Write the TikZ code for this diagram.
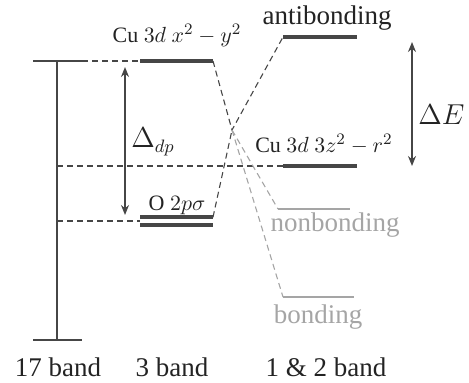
\documentclass[tikz,border=0pt]{standalone}
\usepackage{amsmath}
\usepackage{fontspec}
\setmainfont{Liberation Serif}
\newfontfamily\levelfont{Liberation Serif}
\usetikzlibrary{arrows.meta,positioning,calc}
\definecolor{levelcolor}{RGB}{70,70,70}
\definecolor{weakcolor}{RGB}{165,165,165}
\definecolor{inkcolor}{RGB}{35,35,35}

\begin{document}
\begin{tikzpicture}[x=0.5pt, y=-0.5pt,
    level/.style={line width=2pt, levelcolor},
    weaklevel/.style={line width=1pt, weakcolor},
    guide/.style={levelcolor, line width=0.55pt, dash pattern=on 3pt off 2pt},
    bandline/.style={levelcolor, line width=0.75pt},
    gap/.style={levelcolor, line width=0.75pt, {Stealth[length=5pt,width=4pt]}-{Stealth[length=5pt,width=4pt]}},
    lab/.style={inner sep=0pt, text=inkcolor, font=\levelfont\fontsize{13.5}{16}\selectfont},
    small/.style={inner sep=0pt, text=inkcolor, font=\levelfont\fontsize{11}{13}\selectfont}]
    \useasboundingbox (0,0) rectangle (469,382);

    % 17 band
    \coordinate (t17l) at (33,61);
    \coordinate (t17r) at (82,61);
    \coordinate (t17) at (57,61);
    \coordinate (b17l) at (33,340);
    \coordinate (b17r) at (82,340);
    \coordinate (b17) at (57,340);
    \draw[bandline] (t17l) -- (t17r);
    \draw[bandline] (b17l) -- (b17r);
    \draw[bandline] (t17) -- (b17);

    % 3 band levels
    \coordinate (xyL) at (140,61);
    \coordinate (xyR) at (213,61);
    \coordinate (oL) at (140,221);
    \coordinate (oR) at (213,221);
    \draw[level] (xyL) -- (xyR);
    \draw[level] ([yshift=1.9pt]oL) -- ([yshift=1.9pt]oR);
    \draw[level] ([yshift=-1.9pt]oL) -- ([yshift=-1.9pt]oR);

    % 1 & 2 band levels
    \coordinate (abL) at (283,37);
    \coordinate (abR) at (357,37);
    \coordinate (zL) at (283,166);
    \coordinate (zR) at (357,166);
    \coordinate (nbL) at (278,209);
    \coordinate (nbR) at (350,209);
    \coordinate (bL) at (283,297);
    \coordinate (bR) at (354,297);
    \draw[level] (abL) -- (abR);
    \draw[level] (zL) -- (zR);
    \draw[weaklevel] (nbL) -- (nbR);
    \draw[weaklevel] (bL) -- (bR);

    % dashed guides
    \coordinate (z17) at (57,166);
    \coordinate (o17) at (57,221);
    \draw[guide] (t17r) -- (xyL);
    \draw[guide] (z17) -- (zL);
    \draw[guide] (o17) -- (oL);

    % hybridisation
    \coordinate (mix) at (232,130);
    \draw[guide] (xyR) -- (mix) -- (abL);
    \draw[guide] ([yshift=1.9pt]oR) -- (mix);
    \draw[guide, weakcolor] (mix) -- (nbL);
    \draw[guide, weakcolor] (mix) -- (bL);

    % gaps
    \coordinate (dpT) at (125,67);
    \coordinate (dpB) at (125,215);
    \draw[gap] (dpT) -- (dpB);
    \node[lab, anchor=west] (ddp) at (131,142) {$\Delta_{dp}$};
    \coordinate (eT) at (412,42);
    \coordinate (eB) at (412,166);
    \draw[gap] (eT) -- (eB);
    \node[lab, anchor=west] (dE) at (418,115) {$\Delta E$};

    % labels
    \node[small] (xylab) at (177,35) {Cu $3d$ $x^2-y^2$};
    \node[lab] (ablab) at (327,18) {antibonding};
    \node[small] (zlab) at (324,144) {Cu $3d$ $3z^2-r^2$};
    \node[small] (olab) at (177,205) {O $2p\sigma$};
    \node[lab, text=weakcolor] (nblab) at (335,225) {nonbonding};
    \node[lab, text=weakcolor] (blab) at (318,317) {bonding};

    % band names
    \node[lab] (n17) at (58,367) {17 band};
    \node[lab] (n3) at (172,367) {3 band};
    \node[lab] (n12) at (326,367) {1 \& 2 band};
\end{tikzpicture}
\end{document}
